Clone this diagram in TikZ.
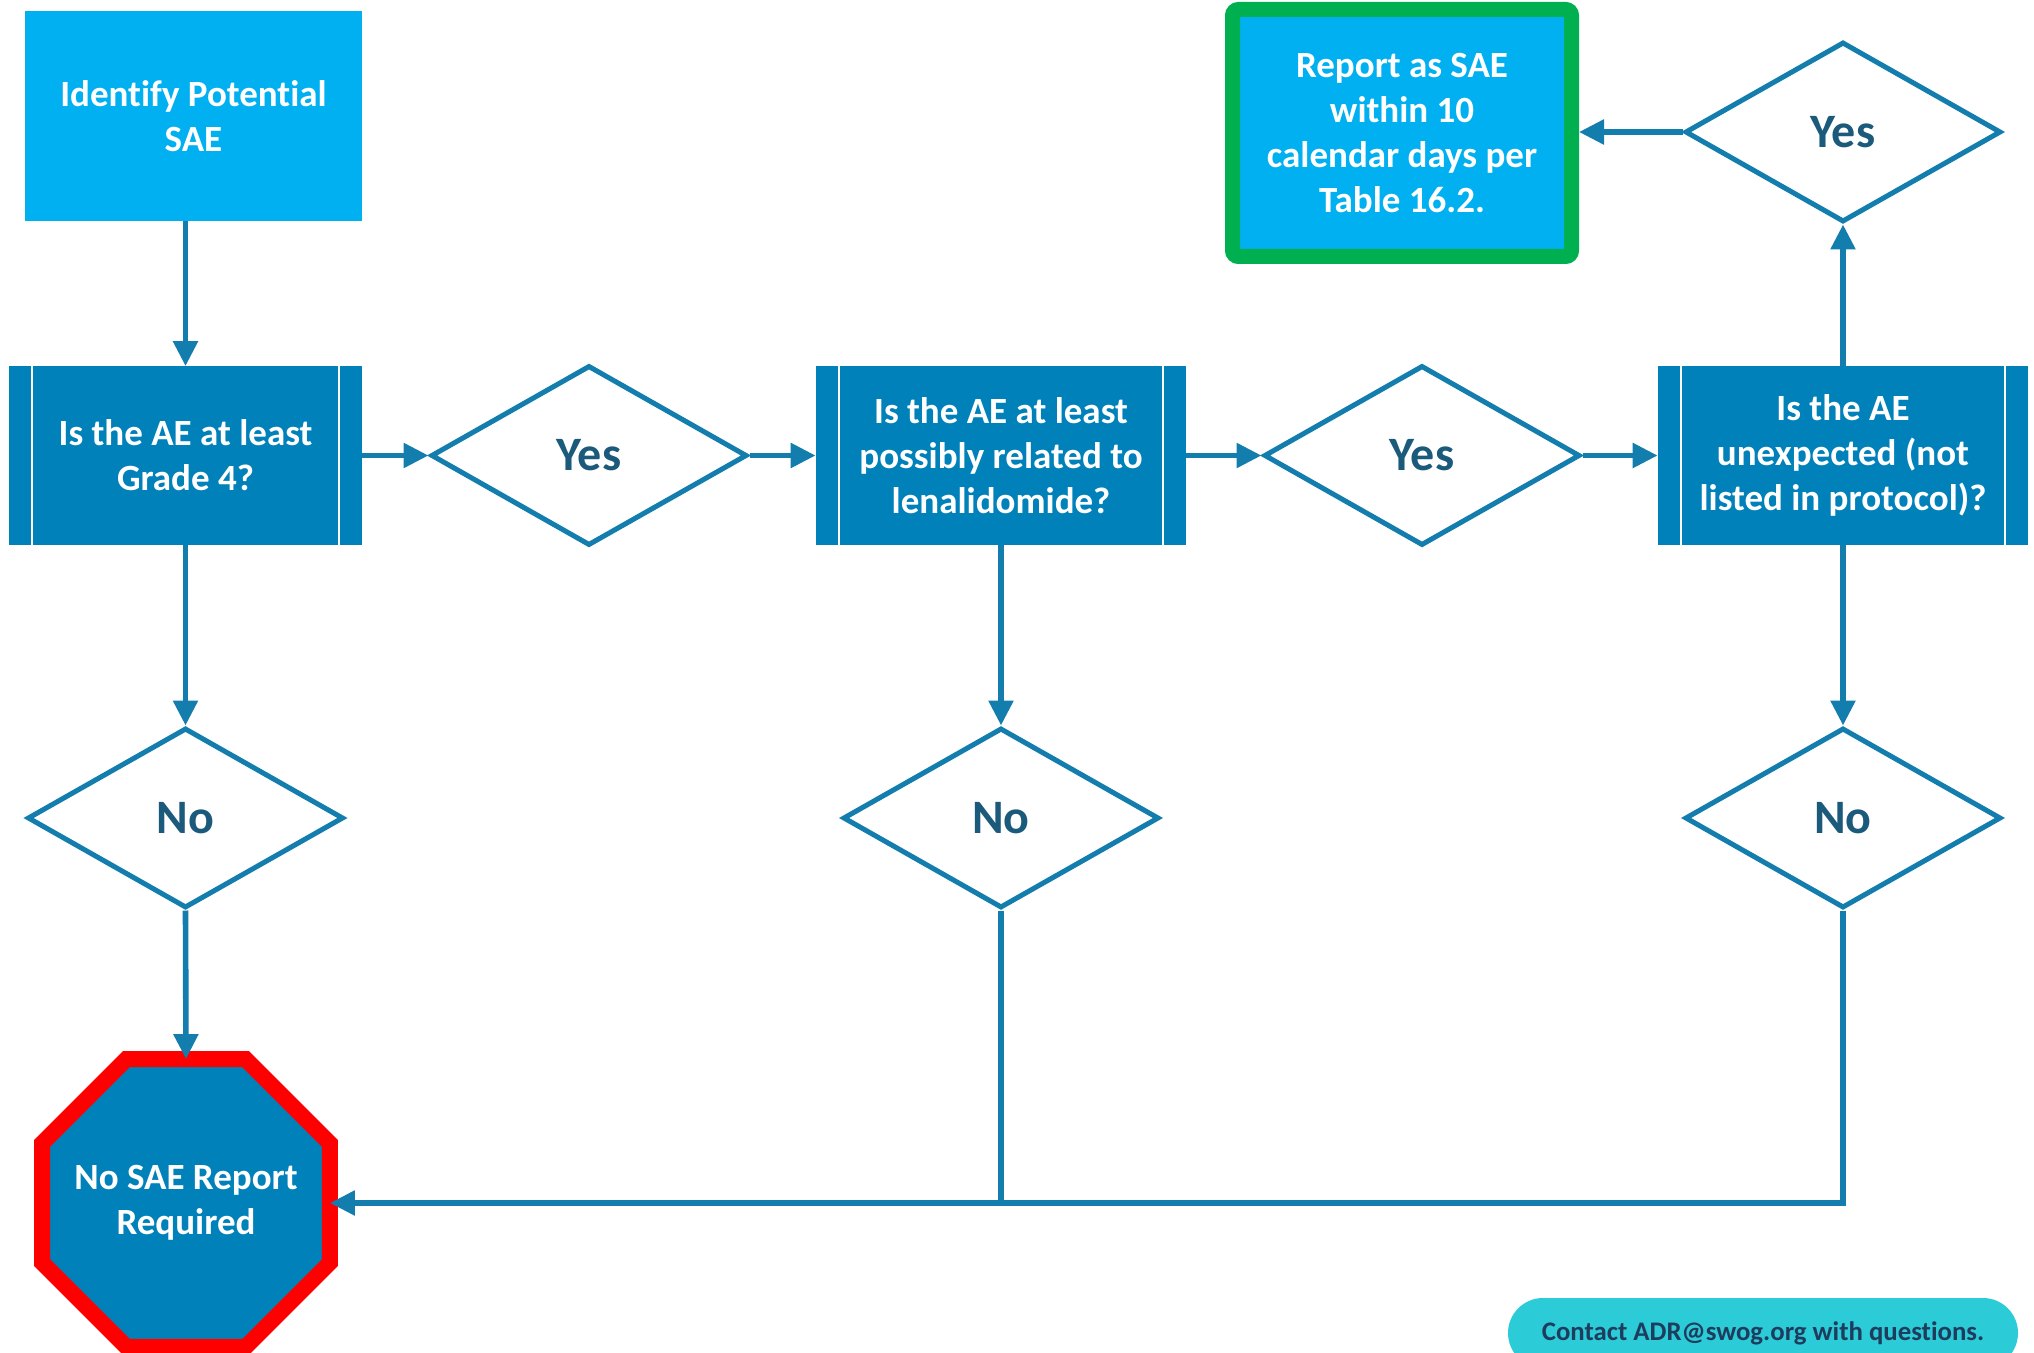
\documentclass[tikz,border=0pt]{standalone}
\usepackage{fontspec}
\setmainfont{Carlito}[Ligatures=NoCommon]
\usetikzlibrary{shapes.geometric,arrows.meta}
\definecolor{lblue}{HTML}{00B0F0}
\definecolor{dblue}{HTML}{0081BA}
\definecolor{lnc}{HTML}{137DAE}
\definecolor{ytext}{HTML}{1B5A7A}
\definecolor{gborder}{HTML}{00B050}
\definecolor{pillc}{HTML}{2BCBD8}
\definecolor{navy}{HTML}{1E3D5C}
\tikzset{
  txt/.style={font=\bfseries\fontsize{18.5pt}{22.5pt}\selectfont, text=white, align=center, inner sep=0pt},
  identbox/.style={txt, fill=lblue, minimum width=168.5pt, minimum height=105pt},
  proc/.style={txt, fill=dblue, minimum height=89pt,
    path picture={\draw[white,line width=1pt]
      ([xshift=11.5pt]path picture bounding box.north west) -- ([xshift=11.5pt]path picture bounding box.south west)
      ([xshift=-11.5pt]path picture bounding box.north east) -- ([xshift=-11.5pt]path picture bounding box.south east);}},
  dec/.style={diamond, draw=lnc, line width=2.5pt, fill=white, minimum width=158pt, minimum height=90pt,
    inner sep=0pt, font=\bfseries\fontsize{24pt}{28pt}\selectfont, text=ytext},
  arr/.style={draw=lnc, line width=2.8pt, -{Triangle[length=12.5pt,width=12pt]}},
  plain/.style={draw=lnc, line width=2.8pt},
  stopbox/.style={regular polygon, regular polygon sides=8, minimum size=155.8pt, draw=red,
    line width=8pt, fill=dblue, outer sep=0pt, inner sep=0pt},
  reportbox/.style={txt, draw=gborder, line width=7.5pt, fill=lblue, rounded corners=3pt,
    minimum width=169.5pt, minimum height=123.5pt},
  pillbox/.style={fill=pillc, rounded corners=17.5pt, minimum width=255pt, minimum height=35pt,
    font=\bfseries\fontsize{13.4pt}{15pt}\selectfont, text=navy, inner sep=0pt}
}
\begin{document}
\begin{tikzpicture}[x=0.5pt,y=-0.5pt]
\useasboundingbox (0,0) rectangle (2034,1353);

\node[identbox] (ident) at (193.5,116) {Identify Potential\\SAE};
\node[proc, minimum width=176.5pt] (q1) at (185.5,455.5) {Is the AE at least\\Grade 4?};
\node[dec] (y1) at (589,455.5) {Yes};
\node[proc, minimum width=185pt] (q2) at (1001,455.5) {Is the AE at least\\possibly related to\\lenalidomide?};
\node[dec] (y2) at (1422,455.5) {Yes};
\node[proc, minimum width=185pt] (q3) at (1843,455.5) {Is the AE\\unexpected (not\\listed in protocol)?};
\node[dec] (y3) at (1843,132) {Yes};
\node[reportbox] (report) at (1402,133) {Report as SAE\\within 10\\calendar days per\\Table 16.2.};
\node[dec] (n1) at (185.5,818) {No};
\node[dec] (n2) at (1001,818) {No};
\node[dec] (n3) at (1843,818) {No};
\node[stopbox, label={[txt]center:No SAE Report\\Required}] (stop) at (186,1203) {};
\node[pillbox] (contact) at (1763,1333) {Contact ADR@swog.org with questions.};

\draw[arr] (ident.south -| q1.north) -- (q1.north);
\draw[arr] (q1.east) -- (y1.west);
\draw[arr] (y1.east) -- (q2.west);
\draw[arr] (q2.east) -- (y2.west);
\draw[arr] (y2.east) -- (q3.west);
\draw[arr] (q3.north) -- (y3.south);
\draw[arr] (y3.west) -- (y3.west -| report.east);
\draw[arr] (q1.south) -- (n1.north);
\draw[arr] (q2.south) -- (n2.north);
\draw[arr] (q3.south) -- (n3.north);
\draw[arr] (n1.south) -- (stop.north);
\draw[arr] (n3.south) |- (stop.east);
\draw[plain] (n2.south) -- (n2.south |- stop.east);
\end{tikzpicture}
\end{document}
